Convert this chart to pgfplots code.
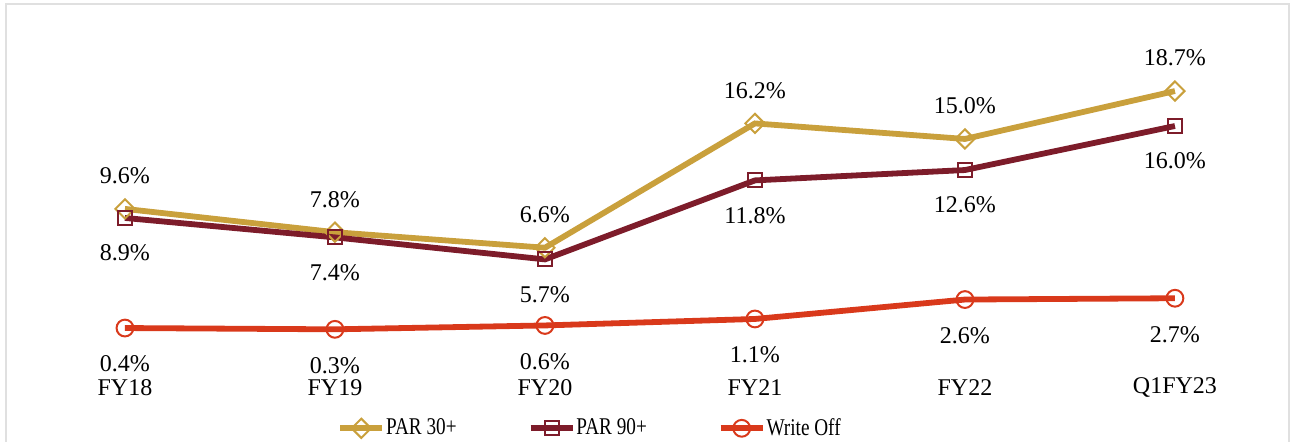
\documentclass[border=0pt]{standalone}
\usepackage{fontspec}
\setmainfont{Liberation Serif}
\usepackage{graphicx}
\usepackage{pgfplots}
\pgfplotsset{compat=1.18}

\definecolor{par30}{RGB}{201,160,60}
\definecolor{par90}{RGB}{125,28,42}
\definecolor{wroff}{RGB}{217,57,27}

\newcommand{\leg}[1]{\scalebox{0.8}[1]{#1}}

\begin{document}
\begin{tikzpicture}
\begin{axis}[
    scale only axis,
    width=647bp, height=221bp,
    xmin=-0.595, xmax=5.567,
    ymin=-8.40, ymax=25.73,
    axis lines=none,
    xtick=\empty, ytick=\empty,
    clip=false,
    font=\fontsize{12bp}{14bp}\selectfont,
    point meta=explicit symbolic,
    nodes near coords={\pgfplotspointmeta\%},
    every node near coord/.append style={anchor=center, inner sep=0pt, font=\fontsize{12bp}{14bp}\selectfont, text=black},
    legend columns=3,
    legend style={
        at={(rel axis cs:0.4556,0.031)}, anchor=center,
        draw=none, fill=none,
        font=\fontsize{12bp}{14bp}\selectfont,
        nodes={inner xsep=0.5bp},
        /tikz/every odd column/.append style={column sep=0bp},
        /tikz/every even column/.append style={column sep=35bp},
    },
    legend image code/.code={
        \draw[mark repeat=2,mark phase=2,#1] plot coordinates {(0bp,0bp)(10.5bp,0bp)(21bp,0bp)};
    },
]
% PAR 30+
\addplot[par30, line width=2.9bp, mark=square, mark size=3.4bp,
    mark options={rotate=45, fill=white, line width=1bp},
    every node near coord/.append style={yshift=16.5bp}]
coordinates {(0,9.6)[9.6] (1,7.8)[7.8] (2,6.6)[6.6] (3,16.2)[16.2] (4,15.0)[15.0] (5,18.7)[18.7]};
\addlegendentry{\leg{PAR 30+}}
% PAR 90+
\addplot[par90, line width=2.9bp, mark=square, mark size=3.5bp,
    mark options={fill=white, line width=1bp},
    every node near coord/.append style={yshift=-17.5bp}]
coordinates {(0,8.9)[8.9] (1,7.4)[7.4] (2,5.7)[5.7] (3,11.8)[11.8] (4,12.6)[12.6] (5,16.0)[16.0]};
\addlegendentry{\leg{PAR 90+}}
% Write Off
\addplot[wroff, line width=2.9bp, mark=o, mark size=4.2bp,
    mark options={fill=white, line width=1bp},
    every node near coord/.append style={yshift=-18bp}]
coordinates {(0,0.4)[0.4] (1,0.3)[0.3] (2,0.6)[0.6] (3,1.1)[1.1] (4,2.6)[2.6] (5,2.7)[2.7]};
\addlegendentry{\leg{Write Off}}

% category labels
\node[inner sep=0pt] at (axis cs:0,-4.23) {FY18};
\node[inner sep=0pt] at (axis cs:1,-4.23) {FY19};
\node[inner sep=0pt] at (axis cs:2,-4.23) {FY20};
\node[inner sep=0pt] at (axis cs:3,-4.23) {FY21};
\node[inner sep=0pt] at (axis cs:4,-4.23) {FY22};
\node[inner sep=0pt] at (axis cs:5,-4.23) {Q1FY23};
% frame
\draw[black!12, line width=1bp] (rel axis cs:0.0045,0) |- (rel axis cs:0.9965,0.992) -- (rel axis cs:0.9965,0);
\end{axis}
\pgfresetboundingbox
\path[use as bounding box] (0,0) rectangle (647bp,221bp);
\end{tikzpicture}
\end{document}
